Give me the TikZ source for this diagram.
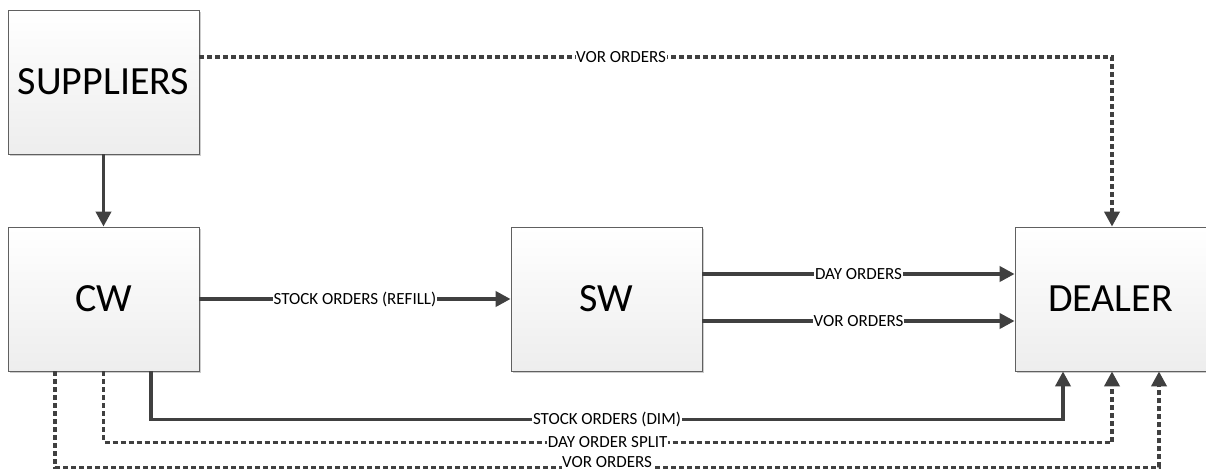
\documentclass[tikz,border=0pt]{standalone}
\usepackage{fontspec}
\setmainfont{Carlito}
\usetikzlibrary{arrows.meta,shadows}
\begin{document}
\begin{tikzpicture}[x=1pt,y=-1pt,
  block/.style={draw=gray!75!black,line width=0.8pt,top color=white,bottom color=gray!14,
    minimum width=191pt,minimum height=144pt,inner sep=0pt,
    font=\fontsize{40}{46}\selectfont,
    drop shadow={shadow xshift=2pt,shadow yshift=-2pt,fill=gray!55,opacity=0.7}},
  flow/.style={draw=black!75,line width=3.8pt,-{Triangle[length=15pt,width=15pt]}},
  flowdash/.style={flow,dash pattern=on 5pt off 3pt},
  lbl/.style={fill=white,inner sep=0.6pt,font=\fontsize{17}{19}\selectfont,text=black}]
\useasboundingbox (0,0) rectangle (1206,471);
\clip (0,0) rectangle (1206,471);
\fill[white] (0,0) rectangle (1206,471);

% the four parties
\node[block] (SUP) at (103.5,82) {SUPPLIERS};
\node[block] (CW)  at (103.5,299) {CW};
\node[block] (SW)  at (606.5,299) {SW};
\node[block] (DEA) at (1110.5,299) {DEALER};

% supply and warehouse flows
\draw[flow] (SUP) -- (CW);
\draw[flowdash] ([yshift=-47]SUP.north east) -| node[lbl,pos=0.231]{VOR ORDERS} ([xshift=1.5]DEA.north);
\draw[flow] (CW) -- node[lbl]{STOCK ORDERS (REFILL)} (SW);
\draw[flow] ([yshift=25]SW.east) -- node[lbl]{DAY ORDERS} ([yshift=25]SW.east -| DEA.west);
\draw[flow] ([yshift=-22]SW.east) -- node[lbl]{VOR ORDERS} ([yshift=-22]SW.east -| DEA.west);

% direct deliveries from CW to the dealer
\draw[flow] ([xshift=47.5]CW.south) -- ++(0,48) -| node[lbl,pos=0.25]{STOCK ORDERS (DIM)} ([xshift=-47.5]DEA.south);
\draw[flowdash] (CW.south) -- ++(0,71) -| node[lbl,pos=0.25]{DAY ORDER SPLIT} ([xshift=1.5]DEA.south);
\draw[flowdash] ([xshift=-48.5]CW.south) -- ++(0,96) -| node[lbl,pos=0.25,yshift=5pt]{VOR ORDERS} ([xshift=48.5]DEA.south);
\end{tikzpicture}
\end{document}
